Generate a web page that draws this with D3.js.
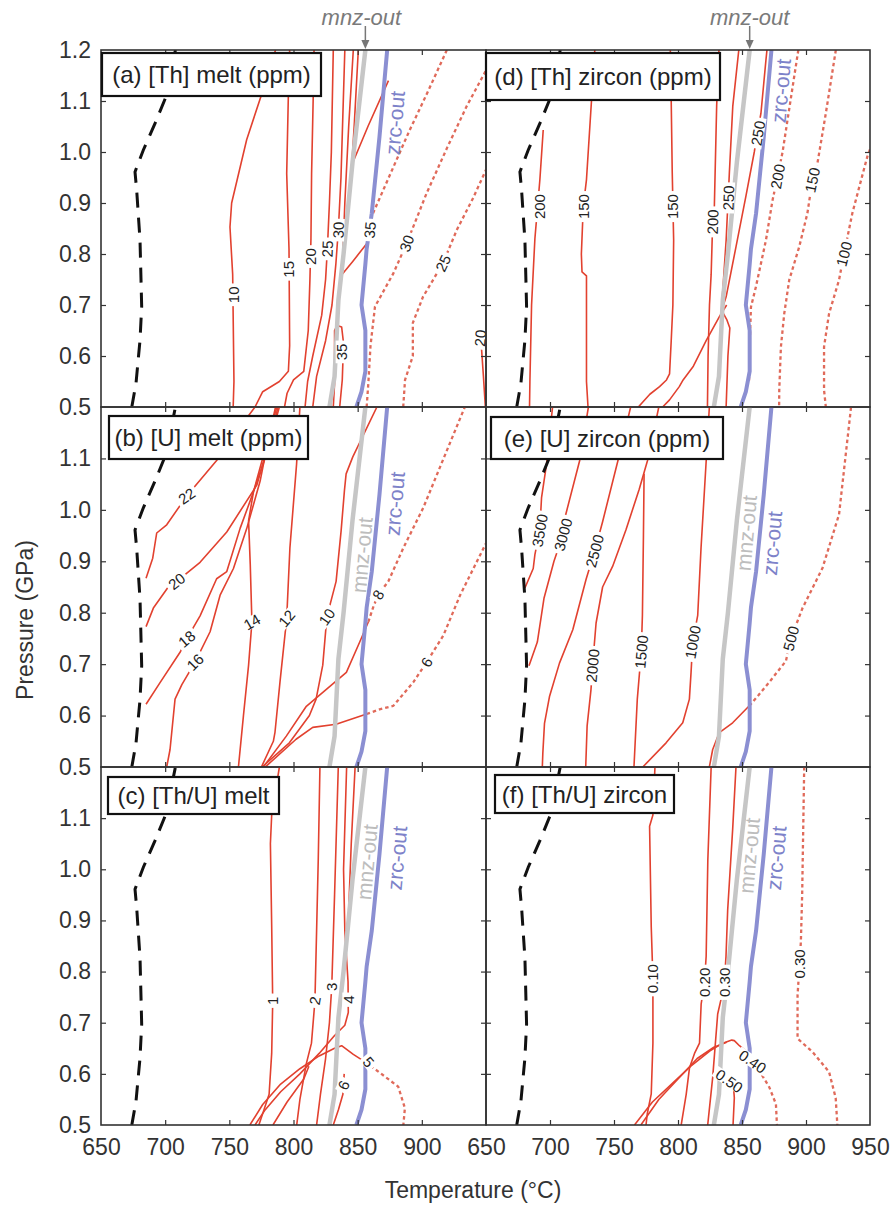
<!DOCTYPE html>
<html>
<head>
<meta charset="utf-8">
<script src="https://cdnjs.cloudflare.com/ajax/libs/d3/7.8.5/d3.min.js"></script>
<style>
body { margin: 0; background: #fff; }
text { font-family: "Liberation Sans", Arial, sans-serif; }
</style>
</head>
<body>
<div id="chart"></div>
<script>
// ---- shared phase boundaries [T (°C), P (GPa)] ----
var solidus = [[674,0.5],[677.3,0.547],[680.4,0.631],[681.7,0.697],[680.4,0.827],[677.8,0.925],[676.5,0.961],[683,1.004],[692.1,1.056],[700.6,1.108],[708,1.2]];
var mnzOut = [[828,0.5],[832,0.56],[834,0.66],[835,0.71],[839,0.8],[846,0.98],[856,1.2]];
var zrcOut = [[849,0.5],[853,0.53],[856,0.57],[856,0.65],[853,0.7],[856,0.78],[857,0.81],[861,0.88],[867,1.03],[873,1.2]];

// ---- (a) [Th] melt ----
var thMeltSolid = [
  [[753,0.5],[753.6,0.55],[752.6,0.76],[750.5,0.853],[751.8,0.9],[763.5,1.024],[775,1.112],[786,1.2]],
  [[770,0.5],[776,0.53],[789,0.55],[796,0.57],[797,0.62],[796.5,0.81],[794.7,0.958],[796,1.112],[797,1.2]],
  [[793,0.5],[795,0.527],[800,0.553],[808,0.57],[811.5,0.65],[812.8,0.75],[813.6,0.83],[814.1,0.958],[815.4,1.112],[816,1.2]],
  [[809,0.5],[811,0.55],[815,0.6],[822,0.68],[825,0.75],[826.4,0.81],[828,0.9],[829.5,1.0],[831,1.2]],
  [[815,0.5],[818,0.56],[825,0.63],[830,0.7],[833,0.78],[835,0.85],[837,0.95],[840,1.2]],
  [[846.6,1.2],[843,1.05],[840,0.9],[838.5,0.8],[836.5,0.756],[846,0.785],[857,0.82]],
  [[850.5,1.2],[847.5,1.06],[845.5,0.975],[858,1.05],[874,1.14]],
  [[831,0.5],[832,0.546],[832,0.65],[834,0.66],[837.5,0.657],[839,0.625],[838,0.553],[836,0.5]],
  [[946.5,0.615],[948,0.56],[949.5,0.5]]
];
var thMeltDotted = [
  [[862,0.88],[876,0.96],[890,1.04],[905,1.12],[919.5,1.2]],
  [[857,0.5],[858.3,0.546],[860,0.62],[863.5,0.697],[877.8,0.762],[888.2,0.821],[903.7,0.919],[920,1.01],[935,1.09],[950,1.16]],
  [[885.5,0.5],[886.9,0.553],[893,0.6],[893,0.665],[900.9,0.716],[916.5,0.782],[927.2,0.847],[940,0.91],[950,0.965]]
];
var thMeltLabels = [[753,0.72,'10',-90],[796.5,0.77,'15',-90],[813.6,0.795,'20',-90],[826.4,0.81,'25',-88],[835,0.847,'30',-88],[859.5,0.847,'35',-85],[837.5,0.608,'35',-90],[888.2,0.821,'30',-70],[916.5,0.782,'25',-65],[945.5,0.635,'20',-85]];

// ---- (b) [U] melt ----
var uMeltSolid = [
  [[685.1,0.867],[690.3,0.906],[693.4,0.955],[701.2,0.971],[716.8,1.027],[740.1,1.096],[755,1.15],[770,1.2]],
  [[685.1,0.773],[690.8,0.809],[703.8,0.855],[709,0.861],[727.2,0.898],[748,0.957],[771.4,1.048],[776.6,1.094],[786,1.2]],
  [[685.1,0.622],[696,0.664],[711.6,0.723],[716.8,0.749],[727.2,0.794],[740.1,0.866],[748,0.88],[758.4,0.964],[768.8,1.035],[775.3,1.094],[787,1.2]],
  [[701.2,0.5],[703.8,0.534],[707.7,0.632],[713,0.66],[723.3,0.704],[735,0.763],[742.8,0.834],[753.2,0.886],[763.6,0.964],[774,1.056],[777,1.094],[788,1.2]],
  [[757.1,0.5],[761,0.6],[765,0.698],[767.6,0.782],[766.3,0.894],[765,0.979],[768.8,1.035],[777,1.094],[789,1.2]],
  [[775,0.5],[784.3,0.55],[785.6,0.568],[789.5,0.666],[794.7,0.789],[797.2,0.926],[802.4,1.089],[805,1.2]],
  [[775.5,0.5],[796.8,0.547],[812.4,0.6],[817.6,0.632],[822.8,0.698],[826,0.792],[833.2,0.861],[837.1,0.959],[839.7,1.038],[841,1.07],[846.2,1.103],[865,1.2]],
  [[776.5,0.5],[794.4,0.56],[810,0.618],[825.6,0.651],[841.2,0.684],[851.6,0.743],[858.3,0.782]],
  [[778,0.5],[802,0.554],[815,0.577],[833.2,0.583],[857,0.603]]
];
var uMeltDotted = [
  [[858.3,0.782],[862,0.81],[866,0.835],[873.9,0.861],[885.6,0.926],[901.1,1.004],[933.5,1.2]],
  [[857,0.603],[867,0.612],[877.8,0.619],[893.4,0.665],[903.8,0.704],[916.8,0.756],[929.8,0.834],[950,0.935]]
];
var uMeltLabels = [[716.8,1.027,'22',-35],[709,0.861,'20',-38],[716.8,0.749,'18',-40],[723.3,0.704,'16',-45],[767.6,0.782,'14',-30],[794.7,0.789,'12',-50],[826,0.792,'10',-55],[866,0.835,'8',-60],[903.8,0.704,'6',-60]];

// ---- (c) [Th/U] melt ----
var thuMeltSolid = [
  [[773,0.5],[777,0.53],[781,0.56],[783,0.64],[783.8,0.74],[783,0.89],[782,1.05],[783,1.106],[789,1.2]],
  [[802.5,0.5],[805,0.55],[810,0.62],[814,0.66],[816.7,0.743],[818,0.88],[819.3,1.02],[820.6,1.2]],
  [[818,0.5],[821,0.56],[825,0.63],[828,0.7],[829.8,0.77],[832,0.95],[834.9,1.2]],
  [[770,0.5],[778,0.53],[790,0.565],[805,0.6],[820,0.64],[832,0.675],[840,0.695],[842.7,0.72],[842.5,0.78],[840,0.88],[839,1.0],[841.4,1.2]],
  [[848,1.2],[845,1.05],[843,0.92]],
  [[766,0.5],[776,0.54],[790,0.58],[805,0.61],[820,0.635],[832,0.65],[837.5,0.655],[846.6,0.638],[856,0.623]],
  [[784,0.5],[795,0.545],[808,0.59],[812,0.615]],
  [[831,0.5],[835,0.53],[838.5,0.56],[839.5,0.6]]
];
var thuMeltDotted = [
  [[856,0.623],[867.4,0.602],[881.6,0.575],[886.8,0.533],[885.6,0.5]]
];
var thuMeltLabels = [[783.8,0.743,'1',-90],[816.7,0.743,'2',-80],[829.8,0.77,'3',-90],[842.7,0.745,'4',-90],[858.5,0.623,'5',50],[839,0.578,'6',-65]];

// ---- (d) [Th] zircon ----
var thZrcSolid = [
  [[684,0.5],[684.3,0.55],[685.6,0.7],[688.2,0.83],[692.1,0.946],[694.7,1.043]],
  [[729.7,0.5],[728.5,0.55],[728.5,0.757],[725,0.765],[724.5,0.8],[726,0.893],[728.5,0.946],[732.4,1.1],[735,1.2]],
  [[769,0.5],[778,0.525],[785.6,0.54],[791,0.553],[793.4,0.565],[794.7,0.63],[796,0.7],[796.6,0.827],[795.5,0.96],[794.7,1.1],[794,1.2]],
  [[788,0.5],[793.4,0.514],[801,0.54],[804,0.553],[812,0.58],[822,0.63],[833,0.68],[838,0.7]],
  [[823,0.5],[823.5,0.6],[824.6,0.7],[825.9,0.76],[827.1,0.863],[828.4,0.893],[830.2,1.09],[832,1.2]],
  [[847.5,1.2],[842.8,1.09],[840.1,0.958],[837.6,0.827],[835,0.729],[834,0.69],[838,0.672],[840.5,0.655],[839,0.6],[837.6,0.5]],
  [[869.5,1.2],[868.7,1.18],[864.8,1.076],[862,1.037],[859.6,1.0],[853.1,0.914],[845.3,0.814],[837.6,0.716],[835,0.696]]
];
var thZrcDotted = [
  [[894,1.2],[881.7,1.0],[877.8,0.952],[873.9,0.906],[868.7,0.827],[860.9,0.736],[857,0.696],[855.7,0.6],[855.5,0.55]],
  [[923.3,1.2],[915.5,1.076],[907.6,0.958],[905,0.945],[901.1,0.88],[894.7,0.814],[886.9,0.749],[883,0.683],[880.4,0.618],[879.1,0.533],[879,0.5]],
  [[950,1.005],[947.9,0.991],[936.2,0.88],[929.7,0.8],[925.8,0.749],[918,0.683],[914.1,0.618],[914.1,0.533],[915.5,0.5]]
];
var thZrcLabels = [[692.1,0.893,'200',-90],[726,0.893,'150',-90],[796,0.893,'150',-90],[827.1,0.863,'200',-88],[839.5,0.91,'250',-88],[862.5,1.037,'250',-80],[877.8,0.952,'200',-80],[905,0.945,'150',-78],[929.7,0.8,'100',-75]];

// ---- (e) [U] zircon ----
var uZrcSolid = [
  [[680.4,0.848],[686.9,0.886],[688.2,0.913],[692,0.96],[693.4,1.024],[697.3,1.089],[702,1.2]],
  [[683.6,0.697],[690.1,0.743],[695.3,0.828],[703.1,0.9],[710.2,0.952],[712.2,0.99],[723.2,1.096],[730,1.2]],
  [[694,0.5],[694.4,0.527],[695.7,0.585],[699.6,0.637],[707.4,0.702],[717.8,0.767],[728.2,0.865],[734.9,0.92],[741.1,0.977],[753.1,1.096],[763,1.2]],
  [[727.9,0.5],[729,0.58],[732,0.65],[734,0.72],[736,0.78],[741.1,0.85],[748.9,0.89],[759.3,0.961],[769.7,1.04],[776.2,1.096],[785,1.2]],
  [[765.6,0.5],[768.2,0.632],[771.3,0.724],[772.2,0.795],[773,0.95],[773.5,1.07]],
  [[772.5,0.5],[790.7,0.547],[803.7,0.586],[808.9,0.632],[810.2,0.684],[811.5,0.743],[815.4,0.795],[818,0.926],[821.9,1.09],[824.5,1.2]],
  [[824.5,0.5],[827.1,0.534],[832.3,0.567],[842.7,0.586],[855.7,0.619]]
];
var uZrcDotted = [
  [[855.7,0.619],[863,0.64],[871.3,0.665],[884.3,0.706],[888.2,0.75],[897.3,0.809],[912.9,0.887],[925.8,0.991],[935.2,1.2]]
];
var uZrcLabels = [[692,0.96,'3500',-80],[710.2,0.952,'3000',-75],[734.9,0.92,'2500',-75],[733.3,0.697,'2000',-85],[771.3,0.724,'1500',-85],[811.5,0.743,'1000',-80],[888.2,0.75,'500',-75]];

// ---- (f) [Th/U] zircon ----
var thuZrcSolid = [
  [[775,0.5],[776,0.522],[779.1,0.561],[780.4,0.66],[780.4,0.786],[779.1,0.887],[777.8,1.084],[780.4,1.106],[782,1.2]],
  [[802.5,0.5],[806.4,0.56],[809,0.612],[812.9,0.64],[816.8,0.66],[818.1,0.737],[820.7,0.779],[822,0.83],[823.3,1.018],[825.9,1.2]],
  [[823.2,0.5],[827.1,0.593],[831,0.717],[834,0.75],[836.2,0.779],[837.5,0.83],[838.8,0.92],[842.7,1.078],[845.3,1.2]],
  [[766,0.5],[780,0.545],[795,0.58],[810,0.615],[825,0.645],[835,0.66],[842,0.666],[844,0.665],[848,0.655],[853,0.645],[856.5,0.628]],
  [[771,0.5],[785,0.55],[800,0.59],[815,0.63],[828,0.652],[838,0.662]],
  [[830.2,0.605],[836,0.595],[840.1,0.586],[843.5,0.57],[844,0.553],[843,0.5]]
];
var thuZrcDotted = [
  [[856.5,0.628],[865,0.6],[871.3,0.574],[876.5,0.541],[877.3,0.5]],
  [[898.6,1.2],[897,0.95],[896,0.859],[895,0.815],[893.4,0.754],[893.4,0.669],[905.1,0.643],[918,0.604],[923.2,0.553],[924.5,0.5]]
];
var thuZrcLabels = [[780.4,0.786,'0.10',-90],[820.7,0.779,'0.20',-90],[836.2,0.779,'0.30',-90],[858.3,0.624,'0.40',35],[840.1,0.586,'0.50',35],[895.3,0.815,'0.30',-90]];

// boundary name tags [name, T, P]
var tagsA = [['zrc-out',879,1.057]];
var tagsB = [['zrc-out',879,1.012],['mnz-out',853.4,0.912]];
var tagsC = [['zrc-out',880.7,1.022],['mnz-out',857.3,1.014]];
var tagsD = [['zrc-out',880.4,1.12]];
var tagsE = [['zrc-out',873.6,0.935],['mnz-out',853.4,0.955]];
var tagsF = [['zrc-out',876.8,1.022],['mnz-out',855.7,1.027]];

var xTicks = [650, 700, 750, 800, 850, 900, 950];
var yTicks = [0.5, 0.6, 0.7, 0.8, 0.9, 1.0, 1.1, 1.2];

var svgWidth = 896;
var svgHeight = 1205;

var cols = [{x0: 101, x1: 486}, {x0: 486, x1: 870}];
var rows = [{y0: 50, y1: 407}, {y0: 407, y1: 767}, {y0: 767, y1: 1125}];

var red = '#e2412f';
var redDot = '#e06a5a';

var panels = [
  {id: 'a', row: 0, col: 0, title: '(a) [Th] melt (ppm)', box: [1, 3, 219, 43], solid: thMeltSolid, dotted: thMeltDotted, labels: thMeltLabels, tags: tagsA},
  {id: 'b', row: 1, col: 0, title: '(b) [U] melt (ppm)', box: [8, 9, 199, 43], solid: uMeltSolid, dotted: uMeltDotted, labels: uMeltLabels, tags: tagsB},
  {id: 'c', row: 2, col: 0, title: '(c) [Th/U] melt', box: [7, 10, 171, 37], solid: thuMeltSolid, dotted: thuMeltDotted, labels: thuMeltLabels, tags: tagsC},
  {id: 'd', row: 0, col: 1, title: '(d) [Th] zircon (ppm)', box: [0, 3, 234, 47], solid: thZrcSolid, dotted: thZrcDotted, labels: thZrcLabels, tags: tagsD},
  {id: 'e', row: 1, col: 1, title: '(e) [U] zircon (ppm)', box: [5, 10, 232, 42], solid: uZrcSolid, dotted: uZrcDotted, labels: uZrcLabels, tags: tagsE},
  {id: 'f', row: 2, col: 1, title: '(f) [Th/U] zircon', box: [9, 8, 179, 38], solid: thuZrcSolid, dotted: thuZrcDotted, labels: thuZrcLabels, tags: tagsF}
];

var svg = d3.select('#chart').append('svg')
    .attr('width', svgWidth)
    .attr('height', svgHeight);

panels.forEach(function(p) {
    var c = cols[p.col], r = rows[p.row];
    var x = d3.scaleLinear().domain([650, 950]).range([c.x0, c.x1]);
    var y = d3.scaleLinear().domain([0.5, 1.2]).range([r.y1, r.y0]);
    var line = d3.line().x(d => x(d[0])).y(d => y(d[1]));

    svg.append('clipPath').attr('id', 'clip-' + p.id)
      .append('rect')
        .attr('x', c.x0).attr('y', r.y0)
        .attr('width', c.x1 - c.x0).attr('height', r.y1 - r.y0);

    var g = svg.append('g').attr('clip-path', `url(#clip-${p.id})`);

    g.selectAll('.dotted').data(p.dotted).enter().append('path')
        .attr('d', line)
        .attr('fill', 'none')
        .attr('stroke', redDot)
        .attr('stroke-width', 2.3)
        .attr('stroke-dasharray', '3.5,3');

    g.selectAll('.solid').data(p.solid).enter().append('path')
        .attr('d', line)
        .attr('fill', 'none')
        .attr('stroke', red)
        .attr('stroke-width', 1.6)
        .attr('stroke-linejoin', 'round');

    g.append('path').attr('d', line(solidus))
        .attr('fill', 'none').attr('stroke', '#111')
        .attr('stroke-width', 3).attr('stroke-dasharray', '15,10');

    g.append('path').attr('d', line(mnzOut))
        .attr('fill', 'none').attr('stroke', '#c6c6c6').attr('stroke-width', 4.5);

    g.append('path').attr('d', line(zrcOut))
        .attr('fill', 'none').attr('stroke', '#8b8fd2').attr('stroke-width', 4);

    // contour labels with white gap
    var lab = g.selectAll('.clab').data(p.labels).enter().append('g')
        .attr('transform', d => `translate(${x(d[0])},${y(d[1])}) rotate(${d[3]})`);
    lab.append('rect').attr('fill', '#fff');
    lab.append('text')
        .text(d => d[2])
        .attr('text-anchor', 'middle')
        .attr('dy', '0.36em')
        .style('font-size', '15px')
        .attr('fill', '#222');
    lab.each(function() {
        var w = d3.select(this).select('text').node().getComputedTextLength() + 6;
        d3.select(this).select('rect')
            .attr('x', -w / 2).attr('y', -6).attr('width', w).attr('height', 12);
    });

    // boundary name tags
    g.selectAll('.tag').data(p.tags).enter().append('text')
        .attr('transform', d => `translate(${x(d[1])},${y(d[2])}) rotate(-85)`)
        .attr('text-anchor', 'middle')
        .attr('dy', '0.35em')
        .style('font-size', '21px')
        .attr('fill', d => d[0] === 'zrc-out' ? '#7d82c9' : '#bdbdbd')
        .text(d => d[0]);

    // frame
    svg.append('rect')
        .attr('x', c.x0).attr('y', r.y0)
        .attr('width', c.x1 - c.x0).attr('height', r.y1 - r.y0)
        .attr('fill', 'none').attr('stroke', '#333').attr('stroke-width', 1.6);

    // inward ticks on all four sides
    var innerX = xTicks.slice(1, -1), innerY = yTicks.slice(1, -1);
    [[d3.axisBottom, r.y1], [d3.axisTop, r.y0]].forEach(function(a) {
        svg.append('g').attr('transform', `translate(0,${a[1]})`)
            .call(a[0](x).tickValues(innerX).tickSize(-5).tickFormat(''))
            .call(s => s.select('.domain').remove())
            .selectAll('line').attr('stroke', '#333').attr('stroke-width', 1.2);
    });
    [[d3.axisLeft, c.x0], [d3.axisRight, c.x1]].forEach(function(a) {
        svg.append('g').attr('transform', `translate(${a[1]},0)`)
            .call(a[0](y).tickValues(innerY).tickSize(-5).tickFormat(''))
            .call(s => s.select('.domain').remove())
            .selectAll('line').attr('stroke', '#333').attr('stroke-width', 1.2);
    });

    // tick labels
    if (p.row === 2) {
        var xt = p.col === 0 ? xTicks.slice(0, -1) : xTicks;
        svg.append('g').attr('transform', `translate(0,${r.y1})`)
            .call(d3.axisBottom(x).tickValues(xt).tickSize(0).tickPadding(14).tickFormat(d3.format('d')))
            .call(s => s.select('.domain').remove())
            .selectAll('text').style('font-size', '23px').attr('fill', '#333')
            .style('font-family', '"Liberation Sans", Arial, sans-serif');
    }
    if (p.col === 0) {
        var yt = p.row === 0 ? yTicks : yTicks.slice(0, -1);
        svg.append('g').attr('transform', `translate(${c.x0},0)`)
            .call(d3.axisLeft(y).tickValues(yt).tickSize(0).tickPadding(10).tickFormat(d3.format('.1f')))
            .call(s => s.select('.domain').remove())
            .selectAll('text').style('font-size', '23px').attr('fill', '#333')
            .style('font-family', '"Liberation Sans", Arial, sans-serif');
    }

    // title box
    var bx = c.x0 + p.box[0], by = r.y0 + p.box[1];
    svg.append('rect')
        .attr('x', bx).attr('y', by).attr('width', p.box[2]).attr('height', p.box[3])
        .attr('fill', '#fff').attr('stroke', '#111').attr('stroke-width', 2.2);
    svg.append('text')
        .attr('x', bx + p.box[2] / 2).attr('y', by + p.box[3] / 2)
        .attr('dy', '0.36em').attr('text-anchor', 'middle')
        .style('font-size', '24px').attr('fill', '#222')
        .text(p.title);

    // mnz-out arrow at top row
    if (p.row === 0) {
        var ax = x(856);
        svg.append('text')
            .attr('x', ax - (p.col === 0 ? 4 : 0)).attr('y', 25)
            .attr('text-anchor', 'middle')
            .style('font-size', '22px').style('font-style', 'italic')
            .attr('fill', '#7a7a7a')
            .text('mnz-out');
        svg.append('line')
            .attr('x1', ax).attr('x2', ax).attr('y1', 26).attr('y2', 44)
            .attr('stroke', '#777').attr('stroke-width', 1.5);
        svg.append('path')
            .attr('d', `M${ax - 4},${40} L${ax + 4},${40} L${ax},${r.y0 - 1} Z`)
            .attr('fill', '#777');
    }
});

svg.append('text')
    .attr('x', 473).attr('y', 1198)
    .attr('text-anchor', 'middle')
    .style('font-size', '23px').attr('fill', '#333')
    .text('Temperature (°C)');

svg.append('text')
    .attr('transform', 'translate(25,620) rotate(-90)')
    .attr('text-anchor', 'middle')
    .attr('dy', '0.35em')
    .style('font-size', '23px').attr('fill', '#333')
    .text('Pressure (GPa)');
</script>
</body>
</html>
